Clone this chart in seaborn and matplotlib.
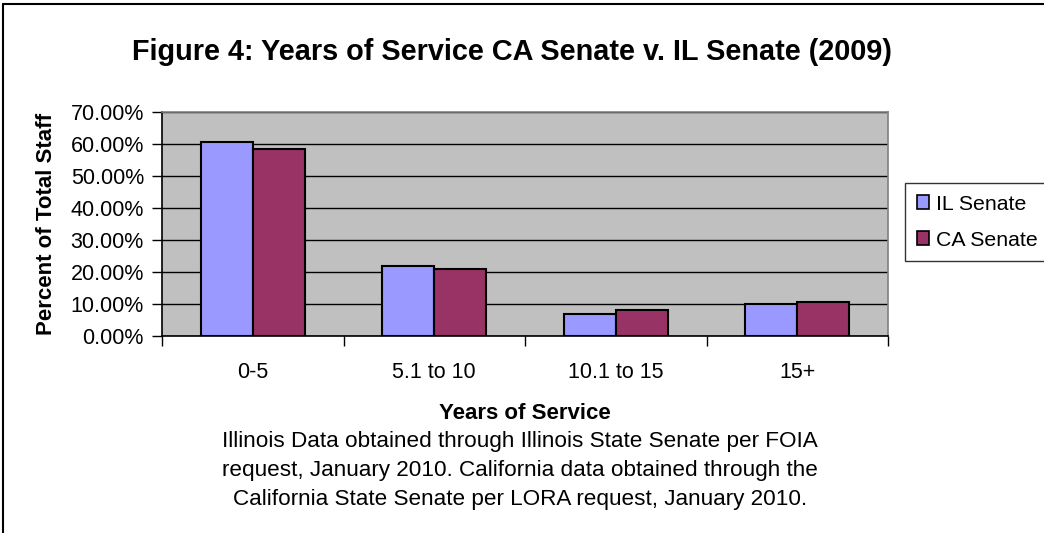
import matplotlib
matplotlib.use("Agg")
import matplotlib.pyplot as plt
import seaborn as sns
import pandas as pd
from matplotlib.ticker import FuncFormatter, FixedLocator
from matplotlib.lines import Line2D
from matplotlib.patches import Patch

categories = ["0-5", "5.1 to 10", "10.1 to 15", "15+"]
il_senate = [60.7, 22.0, 6.9, 10.1]
ca_senate = [58.5, 20.8, 8.0, 10.7]
series = ["IL Senate", "CA Senate"]
colors = ["#9999FF", "#993366"]

df = pd.DataFrame({
    "Years of Service": categories * 2,
    "Percent": il_senate + ca_senate,
    "Series": [series[0]] * len(categories) + [series[1]] * len(categories),
})

sns.set_style("white")
plt.rcParams["font.family"] = ["Liberation Sans", "DejaVu Sans"]
plt.rcParams["text.color"] = "black"
plt.rcParams["axes.labelcolor"] = "black"
plt.rcParams["xtick.color"] = "black"
plt.rcParams["ytick.color"] = "black"

fig = plt.figure(figsize=(10.44, 5.33), dpi=100)
ax = fig.add_axes([162 / 1044, 1 - 336 / 533, (888 - 162) / 1044, (336 - 112) / 533])
ax.set_facecolor("#C0C0C0")

sns.barplot(data=df, x="Years of Service", y="Percent", hue="Series",
            palette=colors, saturation=1, width=0.573, gap=0, edgecolor="black",
            linewidth=1.5, ax=ax, legend=False, zorder=3)

ax.set_ylim(0, 70)
ax.set_xlim(-0.5, len(categories) - 0.5)
ax.yaxis.set_major_locator(FixedLocator(range(0, 71, 10)))
ax.yaxis.set_major_formatter(FuncFormatter(lambda v, p: f"{v:.2f}%"))
ax.grid(axis="y", color="black", linewidth=1.0, zorder=1)
ax.set_axisbelow(True)

ax.tick_params(axis="y", direction="out", length=7, width=1, color="black",
               labelsize=15.5, labelcolor="black", pad=6, left=True)
ax.tick_params(axis="x", which="major", length=0, labelsize=15.5,
               labelcolor="black", pad=19)
ax.xaxis.set_minor_locator(FixedLocator([i - 0.5 for i in range(len(categories) + 1)]))
ax.tick_params(axis="x", which="minor", direction="out", length=7, width=1,
               color="black", bottom=True)

for side in ["left", "bottom"]:
    ax.spines[side].set_color("black")
    ax.spines[side].set_linewidth(1.2)
for side in ["top", "right"]:
    ax.spines[side].set_color("#808080")
    ax.spines[side].set_linewidth(1.2)

ax.set_xlabel("Years of Service", fontsize=16, fontweight="bold", labelpad=14,
              color="black")
ax.set_ylabel("Percent of Total Staff", fontsize=16, fontweight="bold", labelpad=10,
              color="black")

fig.text(0.5 * (132 + 893) / 1044, 1 - 52 / 533,
         "Figure 4: Years of Service CA Senate v. IL Senate (2009)",
         ha="center", va="center", fontsize=20.8, fontweight="bold", color="black")

footer = ("Illinois Data obtained through Illinois State Senate per FOIA\n"
          "request, January 2010. California data obtained through the\n"
          "California State Senate per LORA request, January 2010.")
fig.text(520 / 1044, 1 - 431 / 533, footer, ha="center", va="top",
         fontsize=16.2, linespacing=1.5, color="black")

handles = [Patch(facecolor=c, edgecolor="black", linewidth=1.2) for c in colors]
leg = fig.legend(handles, series, loc="upper left",
                 bbox_to_anchor=(905 / 1044, 1 - 183 / 533),
                 fontsize=15.3, frameon=True, fancybox=False,
                 handlelength=0.6, handleheight=0.6, handletextpad=0.3,
                 borderpad=0.55, labelspacing=0.8, borderaxespad=0)
for t in leg.get_texts():
    t.set_color("black")
leg.get_frame().set_edgecolor("black")
leg.get_frame().set_linewidth(1.0)

fig.add_artist(Line2D([3 / 1044, 1.0], [1 - 4 / 533, 1 - 4 / 533],
                      color="black", linewidth=1.5, transform=fig.transFigure))
fig.add_artist(Line2D([3 / 1044, 3 / 1044], [1 - 4 / 533, 0.0],
                      color="black", linewidth=1.5, transform=fig.transFigure))

fig.savefig("out.png", dpi=100, facecolor="white")
